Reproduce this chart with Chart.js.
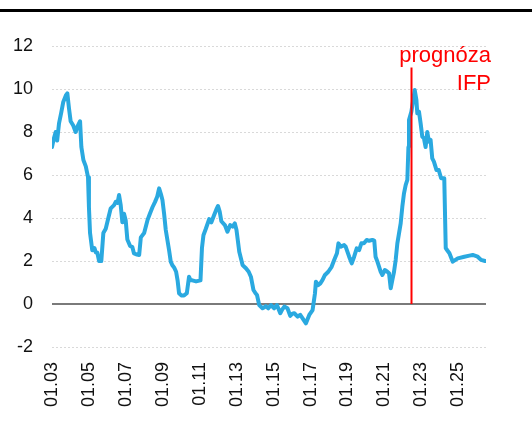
<!DOCTYPE html>
<html>
<head>
<meta charset="utf-8">
<script src="https://cdn.jsdelivr.net/npm/chart.js@4/dist/chart.umd.min.js"></script>
<style>
  html, body { margin: 0; padding: 0; background: #fff; }
  #wrap { position: relative; width: 532px; height: 437px; }
  #topbar { position: absolute; left: 0; top: 9px; width: 532px; height: 3px; background: #000; }
  canvas { position: absolute; left: 0; top: 0; }
</style>
</head>
<body>
<div id="wrap">
  <canvas id="c" width="532" height="437"></canvas>
  <div id="topbar"></div>
</div>
<script>
// Dates as decimal years, values in %
const dates = [
  2003.00, 2003.10, 2003.20, 2003.28, 2003.38, 2003.50, 2003.61, 2003.75, 2003.83, 2003.92,
  2004.01, 2004.15, 2004.28, 2004.40, 2004.52, 2004.59, 2004.70, 2004.83, 2004.95, 2005.00,
  2005.06, 2005.18, 2005.30, 2005.37, 2005.45, 2005.55, 2005.67, 2005.78, 2005.91, 2006.05,
  2006.18, 2006.36, 2006.45, 2006.55, 2006.63, 2006.72, 2006.81, 2006.90, 2006.99, 2007.08,
  2007.23, 2007.35, 2007.44, 2007.60, 2007.72, 2007.81, 2007.99, 2008.17, 2008.30, 2008.44,
  2008.58, 2008.70, 2008.80, 2008.90, 2008.98, 2009.07, 2009.16, 2009.34, 2009.43, 2009.52,
  2009.61, 2009.72, 2009.80, 2009.88, 2010.00, 2010.15, 2010.30, 2010.42, 2010.50, 2010.60,
  2010.80, 2011.04, 2011.12, 2011.20, 2011.33, 2011.51, 2011.63, 2011.78, 2011.90, 2011.99,
  2012.08, 2012.17, 2012.36, 2012.50, 2012.65, 2012.78, 2012.90, 2012.99, 2013.14, 2013.32,
  2013.50, 2013.65, 2013.77, 2013.91, 2014.02, 2014.10, 2014.22, 2014.40, 2014.50, 2014.58,
  2014.71, 2014.86, 2015.03, 2015.18, 2015.36, 2015.47, 2015.58, 2015.75, 2015.90, 2016.02,
  2016.12, 2016.30, 2016.44, 2016.57, 2016.75, 2016.93, 2017.11, 2017.24, 2017.29, 2017.42,
  2017.53, 2017.65, 2017.78, 2017.96, 2018.14, 2018.28, 2018.43, 2018.51, 2018.64, 2018.82,
  2018.90, 2019.09, 2019.23, 2019.36, 2019.50, 2019.63, 2019.75, 2019.89, 2020.04, 2020.17,
  2020.35, 2020.45, 2020.52, 2020.62, 2020.80, 2020.89, 2021.02, 2021.16, 2021.25, 2021.34,
  2021.43, 2021.52, 2021.61, 2021.70, 2021.88, 2021.97, 2022.06, 2022.15, 2022.24, 2022.30,
  2022.33, 2022.46, 2022.56, 2022.64, 2022.73, 2022.78, 2022.87, 2022.96, 2023.05, 2023.14,
  2023.23, 2023.32, 2023.41, 2023.50, 2023.59, 2023.68, 2023.82, 2023.94, 2024.07, 2024.24,
  2024.32, 2024.40, 2024.52, 2024.70, 2024.97, 2025.33, 2025.60, 2025.78, 2026.05, 2026.23,
  2026.45
];
const values = [
  7.3, 7.7, 8.0, 7.6, 8.4, 8.9, 9.4, 9.7, 9.8, 9.1,
  8.5, 8.3, 8.0, 8.3, 8.5, 7.3, 6.7, 6.4, 5.9, 4.5,
  3.3, 2.5, 2.6, 2.4, 2.4, 2.0, 2.0, 3.3, 3.5, 4.0,
  4.45, 4.6, 4.75, 4.7, 5.07, 4.6, 3.8, 4.2, 3.9, 3.0,
  2.7, 2.65, 2.35, 2.3, 2.28, 3.1, 3.3, 3.9, 4.2, 4.5,
  4.75, 5.0, 5.38, 5.1, 4.84, 4.2, 3.44, 2.5, 1.97, 1.8,
  1.7, 1.5, 1.1, 0.5, 0.4, 0.4, 0.5, 1.27, 1.1, 1.1,
  1.05, 1.1, 2.6, 3.2, 3.5, 3.95, 3.8, 4.14, 4.4, 4.56,
  4.3, 3.85, 3.67, 3.36, 3.67, 3.6, 3.75, 3.44, 2.43, 1.81,
  1.66, 1.5, 1.27, 0.65, 0.5, 0.42, -0.05, -0.2, -0.15, -0.1,
  -0.2, -0.05, -0.2, -0.05, -0.43, -0.25, -0.12, -0.2, -0.55, -0.45,
  -0.43, -0.59, -0.5, -0.67, -0.9, -0.51, -0.28, 0.5, 1.04, 0.88,
  0.96, 1.12, 1.35, 1.5, 1.73, 2.05, 2.36, 2.82, 2.67, 2.74,
  2.67, 2.2, 1.89, 2.2, 2.59, 2.51, 2.82, 2.82, 2.98, 2.94,
  2.98, 2.95, 2.2, 1.97, 1.5, 1.35, 1.58, 1.5, 1.43, 0.73,
  1.12, 1.5, 2.05, 2.82, 3.75, 4.53, 5.15, 5.53, 5.77, 7.3,
  8.56, 8.95, 9.5, 9.95, 9.5, 8.87, 8.95, 8.4, 7.78, 7.7,
  7.3, 8.0, 7.55, 7.63, 6.77, 6.62, 6.23, 6.23, 5.85, 5.85,
  2.6, 2.5, 2.36, 1.97, 2.12, 2.2, 2.25, 2.28, 2.2, 2.05,
  2.0
];
const xTickYears = [2003, 2005, 2007, 2009, 2011, 2013, 2015, 2017, 2019, 2021, 2023, 2025];
const yTicks = [-2, 0, 2, 4, 6, 8, 10, 12];
const forecastStart = 2022.45;
const forecastLineTop = 11;
const forecastLabel = ['prognóza', 'IFP'];

const overlay = {
  id: 'overlay',
  beforeDatasetsDraw(chart) {
    const {ctx, chartArea, scales} = chart;
    const y0 = scales.y.getPixelForValue(0);
    ctx.save();
    ctx.strokeStyle = '#7a7a7a';
    ctx.lineWidth = 2;
    ctx.beginPath();
    ctx.moveTo(chartArea.left, y0);
    ctx.lineTo(chartArea.right, y0);
    ctx.stroke();
    ctx.restore();
  },
  afterDatasetsDraw(chart) {
    const {ctx, chartArea, scales} = chart;
    const x = Math.round(scales.x.getPixelForValue(forecastStart)) + 0.5;
    ctx.save();
    ctx.strokeStyle = '#ff0000';
    ctx.lineWidth = 2;
    ctx.beginPath();
    ctx.moveTo(x, scales.y.getPixelForValue(forecastLineTop));
    ctx.lineTo(x, scales.y.getPixelForValue(0));
    ctx.stroke();
    ctx.fillStyle = '#ff0000';
    ctx.font = '22px "Liberation Sans", Arial, sans-serif';
    ctx.textAlign = 'right';
    ctx.textBaseline = 'alphabetic';
    const tx = chartArea.right + 5;
    ctx.fillText(forecastLabel[0], tx, chartArea.top + 16);
    ctx.fillText(forecastLabel[1], tx, chartArea.top + 44);
    ctx.restore();
  }
};

new Chart(document.getElementById('c'), {
  type: 'line',
  data: {
    datasets: [{
      data: dates.map((d, i) => ({x: d, y: values[i]})),
      borderColor: '#2aa9e0',
      borderWidth: 4,
      pointRadius: 0,
      tension: 0,
      borderJoinStyle: 'round',
      borderCapStyle: 'round'
    }]
  },
  options: {
    responsive: false,
    animation: false,
    devicePixelRatio: 1,
    layout: { padding: { top: 46, right: 46, bottom: 0, left: 0 } },
    plugins: { legend: { display: false }, tooltip: { enabled: false } },
    scales: {
      x: {
        type: 'linear',
        min: 2003,
        max: 2026.5,
        afterBuildTicks: (s) => { s.ticks = xTickYears.map(v => ({value: v})); },
        afterFit: (s) => { s.height = 90; },
        grid: { display: false, drawTicks: false },
        border: { display: false },
        ticks: {
          autoSkip: false,
          maxRotation: 90,
          minRotation: 90,
          padding: 15,
          color: '#111',
          font: { family: '"Liberation Sans", Arial, sans-serif', size: 18 },
          callback: (v) => '01.' + String(v % 100).padStart(2, '0')
        }
      },
      y: {
        min: -2,
        max: 12,
        afterBuildTicks: (s) => { s.ticks = yTicks.map(v => ({value: v})); },
        afterFit: (s) => { s.width = 52; },
        grid: {
          drawTicks: false,
          color: (c) => c.tick && c.tick.value === 0 ? 'rgba(0,0,0,0)' : '#d9d9d9',
          lineWidth: 1
        },
        border: { display: false, dash: [2, 2] },
        ticks: {
          padding: 19,
          color: '#111',
          font: { family: '"Liberation Sans", Arial, sans-serif', size: 18 }
        }
      }
    }
  },
  plugins: [overlay]
});
</script>
</body>
</html>
